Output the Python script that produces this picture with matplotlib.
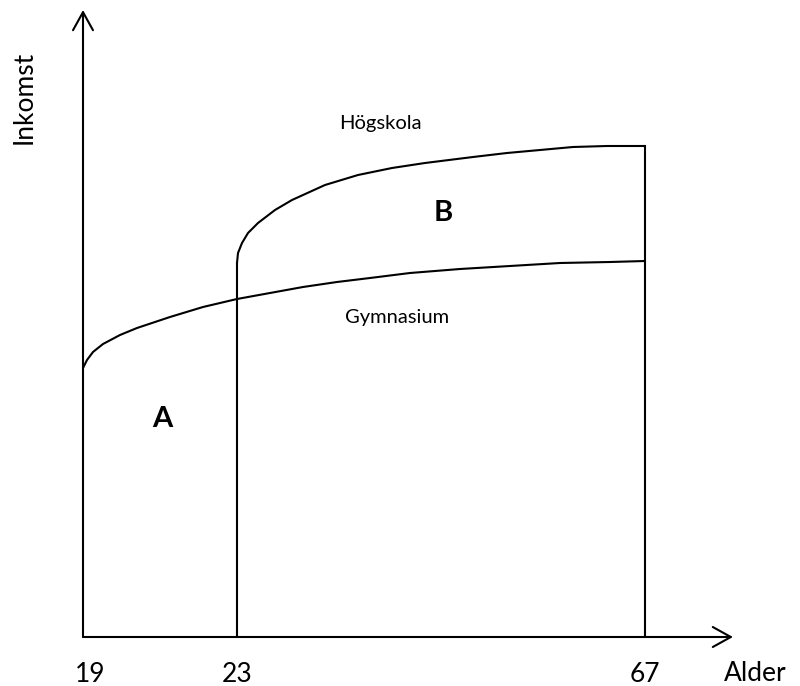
import matplotlib
matplotlib.use("Agg")
import matplotlib.pyplot as plt
from matplotlib.patches import FancyArrowPatch
from matplotlib.transforms import ScaledTranslation

# schematic coordinates (x: position along age axis, y: income level)
age_ticks = [0, 154, 562]
age_labels = ["19", "23", "67"]

gym_x = [0, 4, 10, 20, 37, 54, 87, 120, 154, 187, 220, 254, 287, 327, 377, 427, 477, 527, 562]
gym_y = [269, 277, 285, 293, 302, 309, 320, 330, 338, 344, 350, 355, 359, 364, 368, 371, 374, 375, 376]

hog_x = [154, 155, 159, 165, 175, 192, 209, 242, 275, 309, 342, 390, 424, 457, 490, 524, 562]
hog_y = [374, 384, 394, 404, 414, 427, 437, 452, 462, 469, 474, 480, 484, 487, 490, 491, 491]

X_END = 650
Y_END = 627
FONT = ["Lato", "DejaVu Sans"]
LW = 1.5

fig = plt.figure(figsize=(8, 6.86), dpi=100)
fig.patch.set_facecolor("white")
ax = fig.add_axes([83 / 800, 49 / 686, X_END / 800, Y_END / 686])
ax.set_xlim(0, X_END)
ax.set_ylim(0, Y_END)
for s in ax.spines.values():
    s.set_visible(False)
ax.set_facecolor("none")

# axes with open arrow heads
for start, end in [((0, 0), (X_END, 0)), ((0, 0), (0, Y_END))]:
    ax.add_patch(FancyArrowPatch(
        start, end,
        arrowstyle="->,head_length=0.65,head_width=0.36",
        mutation_scale=20, lw=LW, color="black",
        shrinkA=0, shrinkB=0, clip_on=False,
    ))

# income curves
ax.plot(gym_x, gym_y, color="black", lw=LW, solid_capstyle="butt", solid_joinstyle="round")
ax.plot(hog_x, hog_y, color="black", lw=LW, solid_capstyle="butt", solid_joinstyle="round")

# vertical lines at 23 and 67
ax.plot([hog_x[0], hog_x[0]], [0, hog_y[0]], color="black", lw=LW)
ax.plot([hog_x[-1], hog_x[-1]], [0, hog_y[-1]], color="black", lw=LW)

ax.set_xticks(age_ticks)
ax.set_xticklabels(age_labels, family=FONT, fontsize=19)
ax.tick_params(axis="x", length=0, pad=18)
ax.set_yticks([])
first = ax.get_xticklabels()[0]
first.set_transform(first.get_transform() + ScaledTranslation(7 / 100, 0, fig.dpi_scale_trans))

ax.text(672, -44, "Alder", family=FONT, fontsize=19, ha="center", va="baseline")
ax.text(-51, 540, "Inkomst", family=FONT, fontsize=19, ha="center", va="baseline",
        rotation=90, rotation_mode="anchor")

ax.text(297, 508, "Högskola", family=FONT, fontsize=14.5, ha="center", va="baseline")
ax.text(314, 314, "Gymnasium", family=FONT, fontsize=14.5, ha="center", va="baseline")
ax.text(360, 416, "B", family=FONT, fontsize=21, fontweight="bold", ha="center", va="baseline")
ax.text(79, 210, "A", family=FONT, fontsize=21, fontweight="bold", ha="center", va="baseline")

fig.savefig("out.png", dpi=100, facecolor="white")
